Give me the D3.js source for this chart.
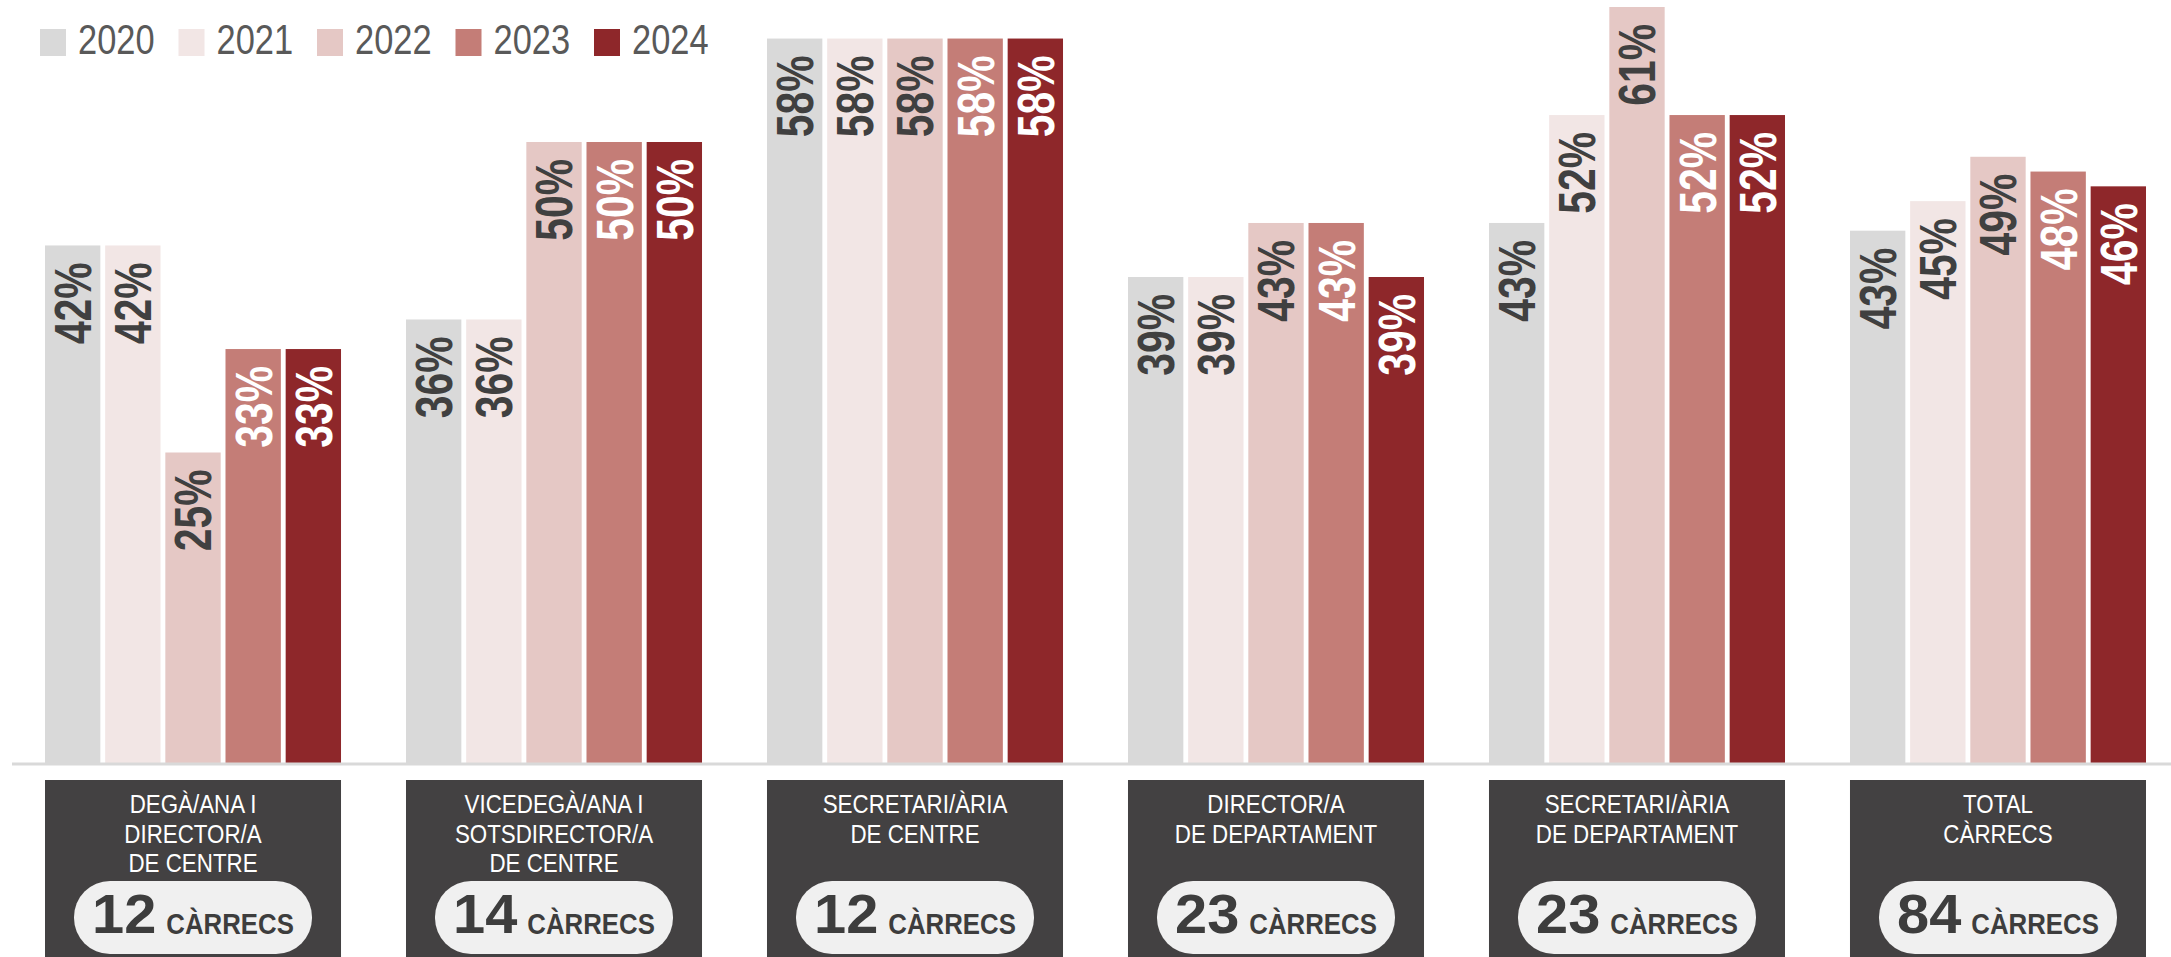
<!DOCTYPE html>
<html>
<head>
<meta charset="utf-8">
<style>
    body { margin: 0; background: #fff; }
    svg { display: block; }
    text { font-family: "Liberation Sans", Arial, sans-serif; }
</style>
</head>
<body>
<script src="https://cdn.jsdelivr.net/npm/d3@7"></script>
<script>
    // data (share of women, %)
    var years = ["2020", "2021", "2022", "2023", "2024"];
    var yearColors = ["#d9d9d9", "#f2e6e5", "#e5c8c5", "#c47d77", "#8e272a"];
    var labelColors = ["#404040", "#404040", "#404040", "#ffffff", "#ffffff"];

    var categories = [
        ["DEGÀ/ANA I", "DIRECTOR/A", "DE CENTRE"],
        ["VICEDEGÀ/ANA I", "SOTSDIRECTOR/A", "DE CENTRE"],
        ["SECRETARI/ÀRIA", "DE CENTRE"],
        ["DIRECTOR/A", "DE DEPARTAMENT"],
        ["SECRETARI/ÀRIA", "DE DEPARTAMENT"],
        ["TOTAL", "CÀRRECS"]
    ];
    var positions = [12, 14, 12, 23, 23, 84];

    var v2020 = [41.67, 35.71, 58.33, 39.13, 43.48, 42.86];
    var v2021 = [41.67, 35.71, 58.33, 39.13, 52.17, 45.24];
    var v2022 = [25.00, 50.00, 58.33, 43.48, 60.87, 48.81];
    var v2023 = [33.33, 50.00, 58.33, 43.48, 52.17, 47.62];
    var v2024 = [33.33, 50.00, 58.33, 39.13, 52.17, 46.43];
    var series = [v2020, v2021, v2022, v2023, v2024];

    var svgWidth = 2171, svgHeight = 957;
    var baseY = 763;
    // no narrow face installed, squeeze instead
    function sq(k) { return ' scale(' + k + ',1)'; }

    var svg = d3.select('body')
        .append('svg')
        .attr('width', svgWidth)
        .attr('height', svgHeight);

    var x0 = d3.scaleBand()
        .domain(d3.range(categories.length))
        .range([45, 2146])
        .paddingInner(0.18)
        .paddingOuter(0);

    var x1 = d3.scaleBand()
        .domain(years)
        .range([0, x0.bandwidth()])
        .paddingInner(0.08);

    var y = d3.scaleLinear()
        .domain([0, 60])
        .range([baseY, baseY - 60 * 12.42]);

    // legend
    var legend = svg.append('g').selectAll('g')
        .data(years)
        .enter()
        .append('g')
        .attr('transform', function (d, i) { return 'translate(' + (40 + i * 138.5) + ',0)'; });
    legend.append('rect')
        .attr('x', 0).attr('y', 29)
        .attr('width', 26).attr('height', 27)
        .attr('fill', function (d, i) { return yearColors[i]; });
    legend.append('text')
        .attr('transform', 'translate(38,54)' + sq(0.82))
        .attr('font-size', 42)
        .attr('fill', '#595959')
        .text(function (d) { return d; });

    // bars
    var flat = [];
    categories.forEach(function (c, ci) {
        years.forEach(function (yr, yi) {
            flat.push({ cat: ci, year: yr, yi: yi, value: series[yi][ci] });
        });
    });

    var groups = svg.append('g');
    groups.selectAll('rect')
        .data(flat)
        .enter()
        .append('rect')
        .attr('x', function (d) { return x0(d.cat) + x1(d.year); })
        .attr('y', function (d) { return y(d.value); })
        .attr('width', x1.bandwidth())
        .attr('height', function (d) { return y(0) - y(d.value); })
        .attr('fill', function (d) { return yearColors[d.yi]; });

    groups.selectAll('text')
        .data(flat)
        .enter()
        .append('text')
        .attr('transform', function (d) {
            var cx = x0(d.cat) + x1(d.year) + x1.bandwidth() / 2;
            return 'translate(' + cx + ',' + (y(d.value) + 17) + ') rotate(-90)' + sq(0.8);
        })
        .attr('text-anchor', 'end')
        .attr('dy', '0.36em')
        .attr('font-size', 51)
        .attr('font-weight', 'bold')
        .attr('fill', function (d) { return labelColors[d.yi]; })
        .text(function (d) { return Math.round(d.value) + '%'; });

    // baseline
    svg.append('line')
        .attr('x1', 12).attr('x2', svgWidth)
        .attr('y1', baseY + 1).attr('y2', baseY + 1)
        .attr('stroke', '#d9d9d9')
        .attr('stroke-width', 3);

    // category boxes
    var bw = x0.bandwidth();
    var boxes = svg.append('g').selectAll('g')
        .data(categories)
        .enter()
        .append('g')
        .attr('transform', function (d, i) { return 'translate(' + x0(i) + ',780)'; });

    boxes.append('rect')
        .attr('width', bw)
        .attr('height', 200)
        .attr('fill', '#434142');

    boxes.each(function (lines) {
        var g = d3.select(this);
        lines.forEach(function (l, li) {
            g.append('text')
                .attr('transform', 'translate(' + (bw / 2) + ',' + (33 + li * 29.5) + ')' + sq(0.86))
                .attr('text-anchor', 'middle')
                .attr('font-size', 26)
                .attr('fill', '#ffffff')
                .text(l);
        });
    });

    boxes.append('rect')
        .attr('x', 29)
        .attr('y', 101)
        .attr('width', bw - 58)
        .attr('height', 73)
        .attr('rx', 36)
        .attr('fill', '#f0f0f0');

    // "NN CÀRRECS" centred as a pair
    boxes.each(function (d, i) {
        var g = d3.select(this);
        var num = g.append('text')
            .attr('font-size', 55)
            .attr('font-weight', 'bold')
            .attr('fill', '#3d3d3d')
            .text(positions[i]);
        var word = g.append('text')
            .attr('font-size', 30)
            .attr('font-weight', 'bold')
            .attr('fill', '#3d3d3d')
            .text('CÀRRECS');
        var wNum = num.node().getComputedTextLength() * 1.05;
        var wWord = word.node().getComputedTextLength() * 0.86;
        var gap = 10;
        var left = bw / 2 - (wNum + gap + wWord) / 2;
        num.attr('transform', 'translate(' + left + ',153)' + sq(1.05));
        word.attr('transform', 'translate(' + (left + wNum + gap) + ',154)' + sq(0.86));
    });
</script>
</body>
</html>
